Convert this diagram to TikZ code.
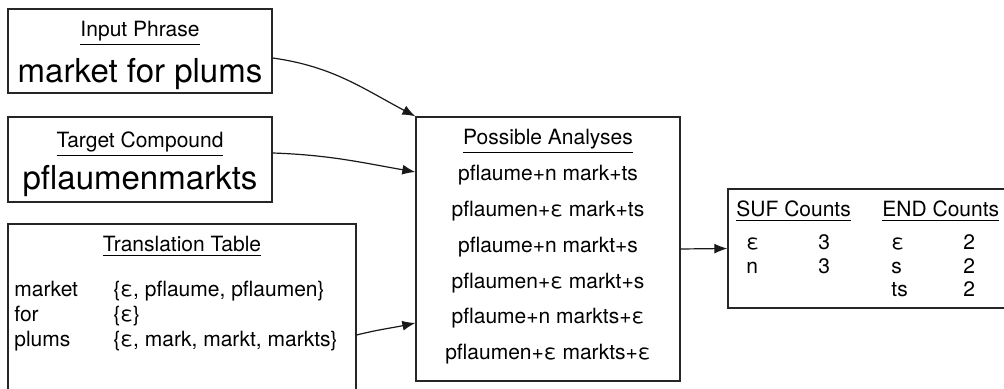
\documentclass[tikz,border=0pt]{standalone}
\usepackage{fontspec}
\setmainfont{TeX Gyre Heros}
\usetikzlibrary{arrows.meta,positioning}

\begin{document}
\begin{tikzpicture}[x=0.5pt,y=0.5pt,
    box/.style={draw=black!85,line width=0.65pt,inner sep=0pt},
    lbl/.style={font=\fontsize{10.5}{12}\selectfont,inner sep=0pt},
    big/.style={font=\fontsize{16.5}{19}\selectfont,inner sep=0pt},
    conn/.style={-{Latex[length=6.5pt,width=5pt]},line width=0.6pt,black!90}]
  \useasboundingbox (0,0) rectangle (1004,389);

  % boxes
  \node[box,minimum width=132pt,minimum height=42pt] (input) at (140,338) {};
  \node[box,minimum width=132pt,minimum height=42.5pt] (target) at (140,229.5) {};
  \node[box,minimum width=174pt,minimum height=111pt] (trans) at (182,54) {};
  \node[box,minimum width=132pt,minimum height=132pt] (anal) at (548,140) {};
  \node[box,minimum width=156pt,minimum height=59.5pt] (counts) at (884,140.5) {};

  % input phrase / target compound
  \node[lbl,anchor=base] (inTitle) at (140,352) {\underline{Input Phrase}};
  \node[big,anchor=base] (inText) at (140,306) {market for plums};
  \node[lbl,anchor=base] (tgTitle) at (140,241) {\underline{Target Compound}};
  \node[big,anchor=base] (tgText) at (140,199) {pflaumenmarkts};

  % translation table
  \node[lbl,anchor=base] (trTitle) at (182,137) {\underline{Translation Table}};
  \node[lbl,anchor=base west] (trW1) at (14,92) {market};
  \node[lbl,anchor=base west] (trS1) at (113,92) {\{ε, pflaume, pflaumen\}};
  \node[lbl,anchor=base west] (trW2) at (14,67) {for};
  \node[lbl,anchor=base west] (trS2) at (113,67) {\{ε\}};
  \node[lbl,anchor=base west] (trW3) at (14,42) {plums};
  \node[lbl,anchor=base west] (trS3) at (113,42) {\{ε, mark, markt, markts\}};

  % possible analyses
  \node[lbl,anchor=base] (anTitle) at (548,244) {\underline{Possible Analyses}};
  \foreach \t [count=\n] in {pflaume+n mark+ts,pflaumen+ε mark+ts,pflaume+n markt+s,
                             pflaumen+ε markt+s,pflaume+n markts+ε,pflaumen+ε markts+ε}
    \node[lbl,anchor=base] (an\n) at (548,244-35.8*\n) {\t};

  % counts
  \node[lbl,anchor=base west] (sufTitle) at (736,172) {\underline{SUF Counts}};
  \node[lbl,anchor=base west] (endTitle) at (882,172) {\underline{END Counts}};
  \foreach \a/\b [count=\n] in {ε/3,n/3}{
    \node[lbl,anchor=base west] (sufA\n) at (746,162.5-23.5*\n) {\a};
    \node[lbl,anchor=base west] (sufB\n) at (818,162.5-23.5*\n) {\b};
  }
  \foreach \a/\b [count=\n] in {ε/2,s/2,ts/2}{
    \node[lbl,anchor=base west] (endA\n) at (891,162.5-23.5*\n) {\a};
    \node[lbl,anchor=base west] (endB\n) at (963,162.5-23.5*\n) {\b};
  }

  % connectors
  \draw[conn] ([yshift=-3.5pt]input.east) to[out=-8,in=152] (anal.north west);
  \draw[conn] ([yshift=3.25pt]target.east) to[out=-2,in=170] ([yshift=38.5pt]anal.west);
  \draw[conn] (trans.east) to[out=14,in=192] ([yshift=-37pt]anal.west);
  \draw[conn] (anal.east) -- (counts.west);
\end{tikzpicture}
\end{document}
